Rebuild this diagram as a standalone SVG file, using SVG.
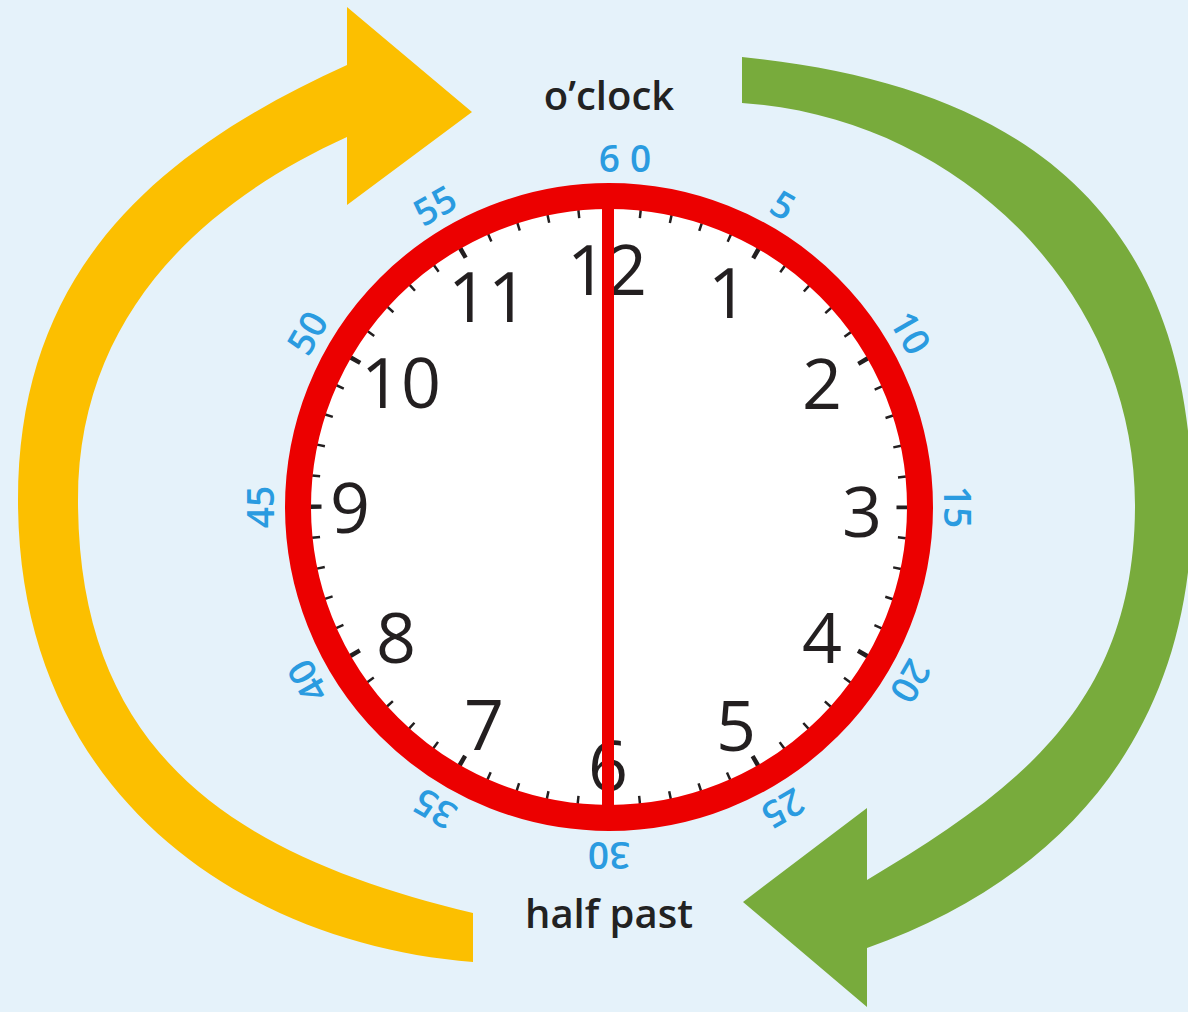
<svg xmlns="http://www.w3.org/2000/svg" width="1188" height="1012" viewBox="0 0 1188 1012">
<style>
.hr{font-family:"Open Sans","Noto Sans",sans-serif;font-size:70px;font-weight:500;fill:#231f20;text-anchor:middle}
.mn{font-family:"Open Sans","Noto Sans",sans-serif;font-size:37px;font-weight:600;fill:#2a9be0;text-anchor:middle}
.lbl{font-family:"Open Sans","Noto Sans",sans-serif;font-size:40px;font-weight:600;fill:#222;text-anchor:middle}
</style>
<rect width="1188" height="1012" fill="#e5f2fa"/>
<g id="connectors">
<path id="yellow-arrow" fill="#fcbf00" d="M 473 962 C 250 945, 18 800, 18 500 C 18 270, 157 151, 347 65 L 347 7 L 472 112 L 347 205 L 347 137 C 197 205, 78 320, 78 500 C 78 760, 243 858, 473 913 Z"/>
<path id="green-arrow" fill="#78ab3c" d="M 742 57 C 1030 85, 1192 220, 1192 505 C 1192 735, 1060 880, 867 948 L 867 1007 L 743 902 L 867 808 L 867 880 C 1017 790, 1135 705, 1135 505 C 1135 295, 962 118, 742 103 Z"/>
</g>
<g id="label-oclock"><text class="lbl" x="609" y="110">o’clock</text></g>
<g id="label-halfpast"><text class="lbl" x="609" y="928">half past</text></g>
<g id="clock">
<circle cx="609" cy="507" r="305" fill="#ffffff"/>
<circle cx="609" cy="507" r="294.5" fill="none" stroke="#231f20" stroke-width="8" stroke-dasharray="2.5 28.34" stroke-dashoffset="1.25"/>
<circle cx="609" cy="507" r="293" fill="none" stroke="#231f20" stroke-width="11" stroke-dasharray="4.5 148.91" stroke-dashoffset="2.25"/>
<circle cx="609" cy="507" r="311" fill="none" stroke="#ec0000" stroke-width="26"/>
<g id="hours">
<text class="hr" x="607" y="295">12</text>
<text class="hr" x="728" y="318">1</text>
<text class="hr" x="822" y="409">2</text>
<text class="hr" x="862" y="537">3</text>
<text class="hr" x="822" y="663">4</text>
<text class="hr" x="736" y="751">5</text>
<text class="hr" x="608" y="791">6</text>
<text class="hr" x="484" y="750">7</text>
<text class="hr" x="396" y="663">8</text>
<text class="hr" x="350" y="533">9</text>
<text class="hr" x="401" y="408">10</text>
<text class="hr" x="488" y="322">11</text>
</g>
<line id="hand" x1="608" y1="205" x2="608" y2="812" stroke="#ec0000" stroke-width="12"/>
<g id="minutes">
<text class="mn" x="630" y="172" letter-spacing="10">60</text>
<text class="mn" x="609" y="172" transform="rotate(30 609 507)">5</text>
<text class="mn" x="609" y="172" transform="rotate(60 609 507)">10</text>
<text class="mn" x="609" y="172" transform="rotate(90 609 507)">15</text>
<text class="mn" x="609" y="172" transform="rotate(120 609 507)">20</text>
<text class="mn" x="609" y="172" transform="rotate(150 609 507)">25</text>
<text class="mn" x="609" y="172" transform="rotate(180 609 507)">30</text>
<text class="mn" x="609" y="172" transform="rotate(210 609 507)">35</text>
<text class="mn" x="609" y="172" transform="rotate(240 609 507)">40</text>
<text class="mn" x="609" y="172" transform="rotate(270 609 507)">45</text>
<text class="mn" x="609" y="172" transform="rotate(300 609 507)">50</text>
<text class="mn" x="609" y="172" transform="rotate(330 609 507)">55</text>
</g>
</g>
</svg>
